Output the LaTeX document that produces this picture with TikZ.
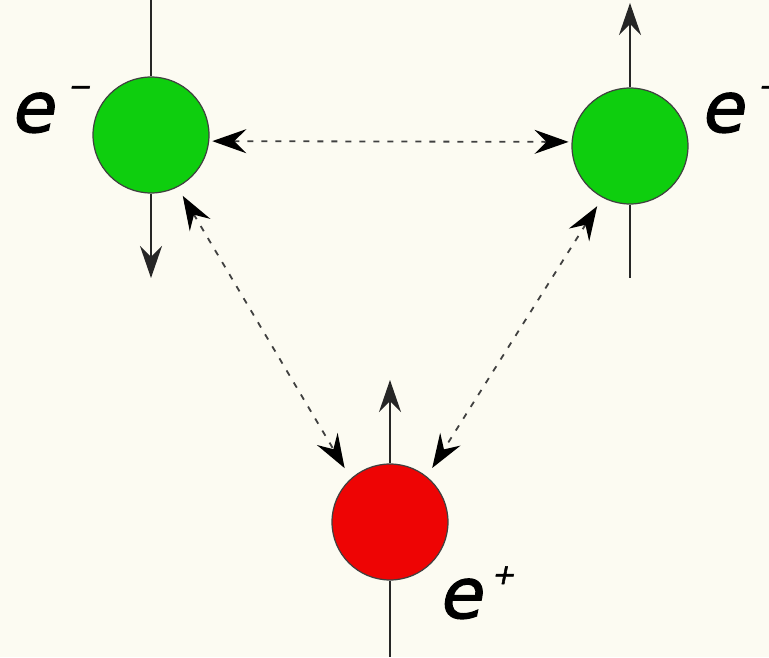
\documentclass[tikz,border=0pt]{standalone}
\usepackage{fontspec}
\setmainfont{DejaVu Sans}
\newfontfamily\chgfont[FakeBold=1.8, FakeSlant=0.2]{DejaVu Sans}
\usetikzlibrary{arrows.meta}
\definecolor{bgcream}{RGB}{252,251,242}
\definecolor{spingreen}{RGB}{14,206,14}
\definecolor{spinred}{RGB}{238,4,4}
\newcommand{\chg}[3]{\chgfont e\hspace{#1}\raisebox{#3}{\mdseries\upshape\fontsize{28}{28}\selectfont #2}}
\tikzset{
    particle/.style={circle, draw=black!75, line width=1.2pt, minimum size=116pt, inner sep=0pt},
    axis/.style={line width=1.3pt, black!85},
    spin/.style={axis, -{Stealth[length=32pt, width=22pt, inset=11pt]}},
    pull/.style={line width=1.8pt, black!75, dash pattern=on 6pt off 8pt,
        {Stealth[length=34pt, width=24pt, inset=12pt, black]}-{Stealth[length=34pt, width=24pt, inset=12pt, black]}},
    charge/.style={anchor=base west, inner sep=0pt, font=\fontsize{70}{70}\selectfont}
}
\begin{document}
\begin{tikzpicture}[x=1pt, y=1pt]
    \fill[bgcream] (0,0) rectangle (769,657);
    \useasboundingbox (0,0) rectangle (769,657);
    \node[particle, fill=spingreen] (eL) at (151,522) {};
    \node[particle, fill=spingreen] (eR) at (630,511) {};
    \node[particle, fill=spinred] (pos) at (390,135) {};
    \coordinate (eLtop) at (151,657);
    \coordinate (eLtip) at (151,379);
    \coordinate (eRtip) at (630,654);
    \coordinate (eRbot) at (630,379);
    \coordinate (postip) at (390,277);
    \coordinate (posbot) at (390,0);
    \draw[axis] (eLtop) -- (eL);
    \draw[spin] (eL) -- (eLtip);
    \draw[spin] (eR) -- (eRtip);
    \draw[axis] (eR) -- (eRbot);
    \draw[spin] (pos) -- (postip);
    \draw[axis] (pos) -- (posbot);
    \draw[pull, shorten <=3pt, shorten >=3pt] (eL.-6) -- (eR.176);
    \draw[pull, shorten <=10pt, shorten >=12pt] (eL.-63) -- (pos.132);
    \draw[pull, shorten <=10pt, shorten >=10pt] (eR.-118) -- (pos.51);
    \node[charge] (qL) at (10,525) {\chg{14pt}{−}{36pt}};
    \node[charge] (qR) at (700,525) {\chg{14pt}{−}{36pt}};
    \node[charge] (qpos) at (438,39) {\chg{10pt}{+}{34pt}};
\end{tikzpicture}
\end{document}
